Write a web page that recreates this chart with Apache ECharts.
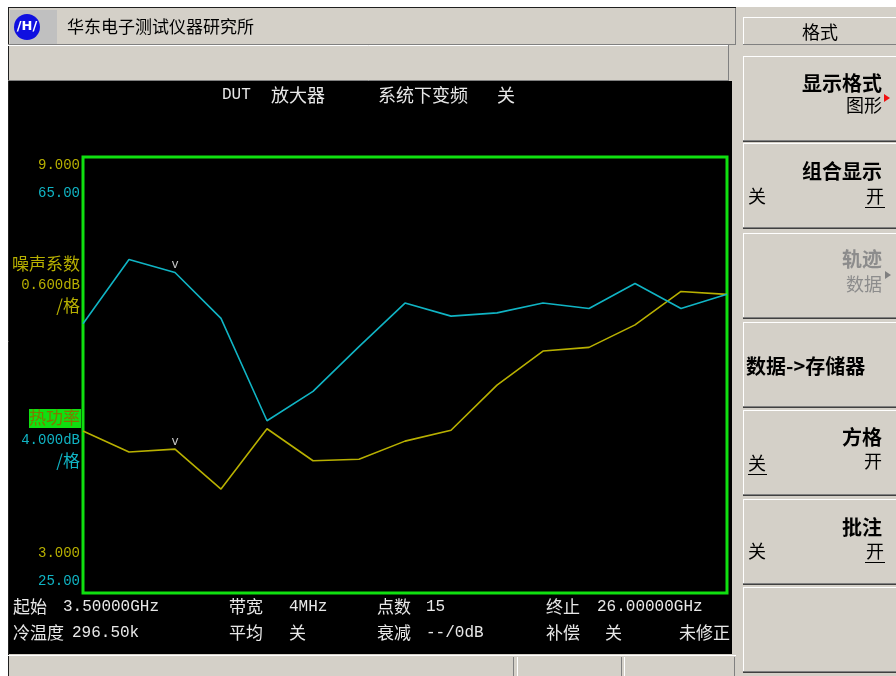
<!DOCTYPE html>
<html>
<head>
<meta charset="utf-8">
<script src="https://cdn.jsdelivr.net/npm/echarts@6/dist/echarts.min.js"></script>
<style>
  html, body { margin: 0; padding: 0; background: #fff; }
  #main { width: 896px; height: 676px; }
</style>
</head>
<body>
<div id="main"></div>
<script>
// 15 points, 3.5 GHz .. 26 GHz
const freqs = ['3.500', '5.107', '6.714', '8.321', '9.929', '11.536', '13.143', '14.750',
  '16.357', '17.964', '19.571', '21.179', '22.786', '24.393', '26.000'];
// 噪声系数 (dB), yellow trace
const noiseFigure = [5.23, 4.94, 4.98, 4.43, 5.26, 4.82, 4.84, 5.09, 5.24, 5.86, 6.33, 6.38, 6.69, 7.15, 7.11];
// 热功率 (dB), cyan trace
const hotPower = [49.7, 55.6, 54.4, 50.2, 40.8, 43.5, 47.6, 51.6, 50.4, 50.7, 51.6, 51.1, 53.4, 51.1, 52.4];
const nfScale = [3, 9];     // 0.600dB/格
const hpScale = [25, 65];   // 4.000dB/格
const markerIdx = 2;

const GRAY = '#d4d0c8';
const YEL = '#b8b000';
const CYAN = '#10b4c4';
const WHITE = '#e8e8e8';
const MONO = '"Liberation Mono", "DejaVu Sans Mono", "Noto Sans CJK SC", monospace';
const CJK = '"Noto Sans CJK SC", "Liberation Mono", sans-serif';

const chart = echarts.init(document.getElementById('main'), null, { renderer: 'canvas' });

// small helpers for the instrument chrome
function txt(x, y, s, color, opt) {
  opt = opt || {};
  return {
    type: 'text', x: x, y: y, z: 20, silent: true,
    style: {
      text: s, fill: color, font: (opt.bold ? 'bold ' : '') + (opt.size || 16) + 'px ' + (opt.family || MONO),
      textAlign: opt.align || 'left', textVerticalAlign: 'middle'
    }
  };
}
function box(x, y, w, h, fill, z) {
  return { type: 'rect', z: z == null ? -5 : z, silent: true, shape: { x: x, y: y, width: w, height: h }, style: { fill: fill } };
}
function ln(x1, y1, x2, y2, color, w, z) {
  return { type: 'line', z: z == null ? -4 : z, silent: true, shape: { x1: x1, y1: y1, x2: x2, y2: y2 }, style: { stroke: color, lineWidth: w || 1 } };
}
function button(top, h) {
  return [
    box(743, top, 153, h, GRAY),
    ln(743, top + 0.5, 896, top + 0.5, '#ffffff'),
    ln(743.5, top, 743.5, top + h, '#ffffff'),
    ln(743, top + h - 1.5, 896, top + h - 1.5, '#808080'),
    ln(743, top + h - 0.5, 896, top + h - 0.5, '#404040')
  ];
}
function tri(x, y, color) {
  return { type: 'polygon', z: 20, silent: true, shape: { points: [[x, y - 4], [x + 6, y], [x, y + 4]] }, style: { fill: color } };
}

const g = [];
// outer frame
g.push(box(0, 0, 896, 676, '#ffffff', -10));
g.push(box(8, 7, 888, 669, GRAY, -9));
g.push(ln(8, 7.5, 736, 7.5, '#202020'), ln(8.5, 7, 8.5, 676, '#202020'));
g.push(ln(735.5, 8, 735.5, 44, '#808080'));
// header row
g.push(box(10, 10, 47, 34, '#c0c0c0'));
g.push({ type: 'circle', z: 5, silent: true, shape: { cx: 27, cy: 27, r: 13 }, style: { fill: '#1010e0' } });
g.push(txt(27, 27, '/H/', '#ffffff', { size: 13, bold: true, align: 'center', family: 'DejaVu Sans' }));
g.push(txt(67, 27, '华东电子测试仪器研究所', '#000000', { size: 17, family: CJK }));
g.push(ln(8, 44.5, 736, 44.5, '#808080'), ln(8, 45.5, 729, 45.5, '#ffffff'));
g.push(ln(8, 80.5, 729, 80.5, '#808080'), ln(728.5, 45, 728.5, 81, '#808080'));
// black screen
g.push(box(9, 81, 723, 573, '#000000', -3));
// bottom status row
g.push(ln(8, 655.5, 736, 655.5, '#ffffff'));
g.push(ln(513.5, 657, 513.5, 676, '#808080'), ln(517.5, 657, 517.5, 676, '#ffffff'));
g.push(ln(621.5, 657, 621.5, 676, '#808080'), ln(624.5, 657, 624.5, 676, '#ffffff'));
g.push(ln(734.5, 657, 734.5, 676, '#808080'));

// screen annotations
g.push(txt(222, 95, 'DUT', WHITE), txt(271, 95, '放大器', WHITE, { family: CJK, size: 18 }),
  txt(378, 95, '系统下变频', WHITE, { family: CJK, size: 18 }), txt(497, 95, '关', WHITE, { family: CJK, size: 18 }));
g.push(txt(80, 165, nfScale[1].toFixed(3), YEL, { align: 'right', size: 14 }));
g.push(txt(80, 193, hpScale[1].toFixed(2), CYAN, { align: 'right', size: 14 }));
g.push(txt(80, 264, '噪声系数', YEL, { align: 'right', family: CJK, size: 17 }));
g.push(txt(80, 285, '0.600dB', YEL, { align: 'right', size: 14 }));
g.push(txt(80, 306, '/格', YEL, { align: 'right', family: CJK, size: 17 }));
g.push(box(29, 409, 52, 19, '#10e010', 10));
g.push(txt(80, 418, '热功率', '#807800', { align: 'right', family: CJK, size: 17 }));
g.push(txt(80, 440, '4.000dB', CYAN, { align: 'right', size: 14 }));
g.push(txt(80, 461, '/格', CYAN, { align: 'right', family: CJK, size: 17 }));
g.push(txt(80, 553, nfScale[0].toFixed(3), YEL, { align: 'right', size: 14 }));
g.push(txt(80, 581, hpScale[0].toFixed(2), CYAN, { align: 'right', size: 14 }));

// parameter lines under the plot
const C18 = { family: CJK, size: 17 };
g.push(txt(13, 607, '起始', WHITE, C18), txt(63, 607, '3.50000GHz', WHITE),
  txt(229, 607, '带宽', WHITE, C18), txt(289, 607, '4MHz', WHITE),
  txt(377, 607, '点数', WHITE, C18), txt(426, 607, String(freqs.length), WHITE),
  txt(546, 607, '终止', WHITE, C18), txt(597, 607, '26.00000GHz', WHITE));
g.push(txt(13, 633, '冷温度', WHITE, C18), txt(72, 633, '296.50k', WHITE),
  txt(229, 633, '平均', WHITE, C18), txt(289, 633, '关', WHITE, C18),
  txt(377, 633, '衰减', WHITE, C18), txt(426, 633, '--/0dB', WHITE),
  txt(546, 633, '补偿', WHITE, C18), txt(605, 633, '关', WHITE, C18),
  txt(730, 633, '未修正', WHITE, { family: CJK, size: 17, align: 'right' }));

// softkey panel
g.push(box(743, 17, 153, 28, GRAY), ln(743, 17.5, 896, 17.5, '#ffffff'), ln(743.5, 17, 743.5, 45, '#ffffff'),
  ln(743, 44.5, 896, 44.5, '#808080'));
g.push(txt(820, 32, '格式', '#000000', { family: CJK, size: 18, align: 'center' }));
[56, 143, 233, 322, 410, 499, 587].forEach(function (t) { g.push.apply(g, button(t, 86)); });
const K = '#000000', DIM = '#8c8c8c';
const B = { family: CJK, size: 20, bold: true, align: 'right' };
const N = { family: CJK, size: 18, align: 'right' };
const NL = { family: CJK, size: 18 };
g.push(txt(882, 83, '显示格式', K, B), txt(882, 105, '图形', K, N), tri(884, 98, '#f01010'));
g.push(txt(882, 171, '组合显示', K, B), txt(748, 196, '关', K, NL), txt(884, 196, '开', K, N),
  ln(865, 207.5, 885, 207.5, K, 1, 20));
g.push(txt(882, 259, '轨迹', DIM, B), txt(882, 284, '数据', DIM, N), tri(885, 275, '#808080'));
g.push(txt(746, 366, '数据->存储器', K, { family: CJK, size: 20, bold: true }));
g.push(txt(882, 437, '方格', K, B), txt(748, 463, '关', K, NL), txt(882, 461, '开', K, N),
  ln(748, 474.5, 767, 474.5, K, 1, 20));
g.push(txt(882, 527, '批注', K, B), txt(748, 551, '关', K, NL), txt(884, 551, '开', K, N),
  ln(865, 562.5, 885, 562.5, K, 1, 20));

function marker(values) {
  return {
    symbol: 'circle', symbolSize: 1, silent: true,
    itemStyle: { color: 'rgba(0,0,0,0)' },
    label: { show: true, formatter: 'v', position: 'top', distance: 1, color: '#c8c8c8', fontSize: 12, fontFamily: MONO },
    data: [{ coord: [freqs[markerIdx], values[markerIdx]] }]
  };
}

chart.setOption({
  animation: false,
  backgroundColor: GRAY,
  grid: {
    show: true, left: 83, top: 157, width: 644, height: 436,
    borderColor: '#10e010', borderWidth: 3, backgroundColor: 'transparent'
  },
  xAxis: {
    type: 'category', data: freqs, boundaryGap: false,
    axisLine: { show: false }, axisTick: { show: false }, axisLabel: { show: false }, splitLine: { show: false }
  },
  yAxis: [
    { type: 'value', min: nfScale[0], max: nfScale[1], show: false, splitLine: { show: false } },
    { type: 'value', min: hpScale[0], max: hpScale[1], show: false, splitLine: { show: false } }
  ],
  series: [
    {
      name: '噪声系数', type: 'line', yAxisIndex: 0, data: noiseFigure, showSymbol: false, z: 3,
      lineStyle: { color: YEL, width: 1.6 }, markPoint: marker(noiseFigure)
    },
    {
      name: '热功率', type: 'line', yAxisIndex: 1, data: hotPower, showSymbol: false, z: 3,
      lineStyle: { color: CYAN, width: 1.6 }, markPoint: marker(hotPower)
    }
  ],
  graphic: { elements: g }
});
</script>
</body>
</html>
